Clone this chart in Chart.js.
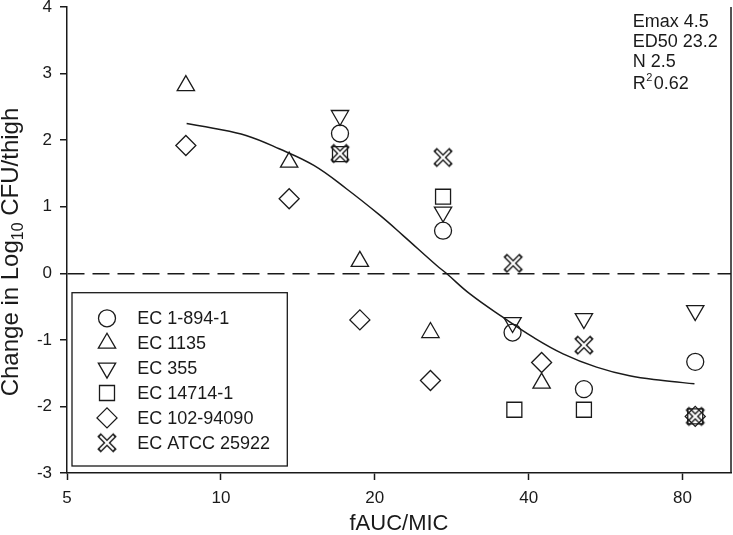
<!DOCTYPE html>
<html>
<head>
<meta charset="utf-8">
<script src="https://cdn.jsdelivr.net/npm/chart.js@4.4.1/dist/chart.umd.min.js"></script>
<style>
  html, body { margin:0; padding:0; background:#fff; }
  #wrap { width:733px; height:535px; }
</style>
</head>
<body>
<div id="wrap"><canvas id="chart" width="733" height="535"></canvas></div>
<script>
// axis ticks
const xTicks = [5, 10, 20, 40, 80];
const yMin = -3, yMax = 4;

// strains (legend order)
const strains = ['EC 1-894-1', 'EC 1135', 'EC 355', 'EC 14714-1', 'EC 102-94090', 'EC ATCC 25922'];

// fAUC/MIC vs change in log10 CFU/thigh, per strain
const x1894 = [17.1, 27.2, 37.2, 51.3, 84.7];
const y1894 = [2.10, 0.64, -0.89, -1.74, -1.33];

const x1135 = [8.54, 13.6, 18.7, 25.7, 42.4];
const y1135 = [2.82, 1.67, 0.18, -0.89, -1.65];

const x355 = [17.1, 27.2, 37.2, 51.3, 84.7];
const y355 = [2.37, 0.92, -0.74, -0.68, -0.56];

const x14714 = [17.1, 27.2, 37.5, 51.3, 84.7];
const y14714 = [1.79, 1.15, -2.05, -2.05, -2.15];

const x102 = [8.54, 13.6, 18.7, 25.7, 42.4, 84.7];
const y102 = [1.92, 1.12, -0.70, -1.61, -1.34, -2.15];

const xAtcc = [17.1, 27.2, 37.3, 51.3, 84.7];
const yAtcc = [1.80, 1.74, 0.15, -1.08, -2.15];

// fitted Emax curve
const curveX = [8.57, 9.66, 11.2, 13.0, 15.2, 17.6, 20.4, 22.7, 26.4, 27.6, 30.7, 35.6, 40.8, 46.7, 54.3, 63.0, 73.2, 84.4];
const curveY = [2.25, 2.18, 2.07, 1.87, 1.62, 1.27, 0.88, 0.57, 0.12, 0.0, -0.31, -0.66, -0.96, -1.21, -1.41, -1.54, -1.61, -1.66];

// model parameters box
const fitLines = ['Emax 4.5', 'ED50 23.2', 'N 2.5'];
const r2Value = '0.62';

const INK = '#1a1a1a';
const FONT = "'Liberation Sans', Arial, sans-serif";
Chart.defaults.font.family = FONT;
Chart.defaults.color = INK;

function pts(xs, ys) { return xs.map((x, i) => ({ x: x, y: ys[i] })); }

// outlined X marker
function makeCross() {
  const c = document.createElement('canvas');
  c.width = 24; c.height = 24;
  const g = c.getContext('2d');
  g.lineCap = 'butt';
  g.strokeStyle = INK; g.lineWidth = 5;
  g.beginPath(); g.moveTo(4, 4); g.lineTo(20, 20); g.moveTo(20, 4); g.lineTo(4, 20); g.stroke();
  g.strokeStyle = '#fff'; g.lineWidth = 2.2;
  g.beginPath(); g.moveTo(5.3, 5.3); g.lineTo(18.7, 18.7); g.moveTo(18.7, 5.3); g.lineTo(5.3, 18.7); g.stroke();
  return c;
}
const crossImg = makeCross();

function markerSet(label, data, style, radius, rotation) {
  return {
    label: label,
    data: data,
    pointStyle: style,
    pointRadius: radius,
    pointHoverRadius: radius,
    pointRotation: rotation || 0,
    pointBorderWidth: 1.3,
    borderColor: INK,
    backgroundColor: 'rgba(0,0,0,0)',
    showLine: false,
    isStrain: true
  };
}

const datasets = [
  markerSet(strains[0], pts(x1894, y1894), 'circle', 8.5),
  markerSet(strains[1], pts(x1135, y1135), 'triangle', 10),
  markerSet(strains[2], pts(x355, y355), 'triangle', 10, 180),
  markerSet(strains[3], pts(x14714, y14714), 'rect', 10.6),
  markerSet(strains[4], pts(x102, y102), 'rectRot', 10),
  markerSet(strains[5], pts(xAtcc, yAtcc), crossImg, 9),
  {
    label: 'fit',
    data: pts(curveX, curveY),
    showLine: true,
    pointRadius: 0,
    borderColor: INK,
    borderWidth: 1.5,
    tension: 0.4,
    fill: false
  }
];

// right frame line, legend box, y title, parameter text
const extras = {
  id: 'extras',
  afterDraw(chart) {
    const ctx = chart.ctx;
    const a = chart.chartArea;
    ctx.save();
    ctx.strokeStyle = INK;
    ctx.lineWidth = 1.5;
    ctx.beginPath();
    ctx.moveTo(a.right, a.top);
    ctx.lineTo(a.right, a.bottom);
    ctx.stroke();

    // legend
    const bx = 72, by = 292.7, bw = 215.3, bh = 173.3;
    ctx.lineWidth = 1.3;
    ctx.strokeRect(bx, by, bw, bh);
    ctx.font = '18px ' + FONT;
    ctx.fillStyle = INK;
    ctx.textBaseline = 'middle';
    ctx.textAlign = 'left';
    chart.data.datasets.filter(d => d.isStrain).forEach((d, i) => {
      const cy = 318.3 + i * 24.9;
      ctx.save();
      ctx.strokeStyle = INK;
      ctx.fillStyle = 'rgba(0,0,0,0)';
      ctx.lineWidth = 1.3;
      Chart.helpers.drawPoint(ctx, {
        pointStyle: d.pointStyle,
        radius: d.pointRadius,
        rotation: d.pointRotation,
        borderWidth: 1.3
      }, 107, cy);
      ctx.restore();
      ctx.fillText(d.label, 137.3, cy + 1);
    });

    // parameter text
    ctx.textBaseline = 'alphabetic';
    ctx.font = '18px ' + FONT;
    const tx = 632.7;
    fitLines.forEach((t, i) => ctx.fillText(t, tx, 27 + i * 20));
    ctx.fillText('R', tx, 89);
    const rw = ctx.measureText('R').width;
    ctx.font = '11px ' + FONT;
    ctx.fillText('2', tx + rw + 0.5, 81);
    const sw = ctx.measureText('2').width;
    ctx.font = '18px ' + FONT;
    ctx.fillText(r2Value, tx + rw + sw + 2, 89);

    // y axis title with subscript
    const big = '24px ' + FONT, small = '16px ' + FONT;
    const p1 = 'Change in Log', p2 = '10', p3 = ' CFU/thigh';
    ctx.font = big; const w1 = ctx.measureText(p1).width, w3 = ctx.measureText(p3).width;
    ctx.font = small; const w2 = ctx.measureText(p2).width;
    const total = w1 + w2 + w3;
    ctx.translate(18, (a.top + a.bottom) / 2 + 12);
    ctx.rotate(-Math.PI / 2);
    let x0 = -total / 2;
    ctx.font = big; ctx.fillText(p1, x0, 0); x0 += w1;
    ctx.font = small; ctx.fillText(p2, x0, 5); x0 += w2;
    ctx.font = big; ctx.fillText(p3, x0, 0);
    ctx.restore();
  }
};

new Chart(document.getElementById('chart'), {
  type: 'scatter',
  data: { datasets: datasets },
  plugins: [extras],
  options: {
    responsive: false,
    animation: false,
    layout: { autoPadding: false, padding: { top: 7, right: 2, left: 0, bottom: 0 } },
    plugins: { legend: { display: false }, tooltip: { enabled: false } },
    scales: {
      x: {
        type: 'logarithmic',
        min: 5,
        max: 99.5,
        afterBuildTicks: s => { s.ticks = xTicks.map(v => ({ value: v })); },
        afterFit: s => { s.height = 62; s.paddingLeft = 0; s.paddingRight = 0; },
        ticks: {
          font: { size: 17 },
          color: INK,
          padding: 8,
          maxRotation: 0,
          callback: v => String(v)
        },
        grid: { drawOnChartArea: false, drawTicks: true, tickLength: 7, tickColor: INK, tickWidth: 1.5 },
        border: { display: true, color: INK, width: 1.5 },
        title: { display: true, text: 'fAUC/MIC', font: { size: 22 }, color: INK, padding: { top: 0, bottom: -2 } }
      },
      y: {
        min: yMin,
        max: yMax,
        afterFit: s => { s.width = 67; s.paddingTop = 0; s.paddingBottom = 0; },
        ticks: { stepSize: 1, font: { size: 17 }, color: INK, padding: 8 },
        grid: {
          drawOnChartArea: true,
          drawTicks: true,
          tickLength: 7,
          tickColor: INK,
          tickWidth: 1.5,
          lineWidth: 1.5,
          color: c => (c.tick && c.tick.value === 0) ? INK : 'rgba(0,0,0,0)'
        },
        border: { display: true, color: INK, width: 1.5, dash: [17, 8] }
      }
    }
  }
});
</script>
</body>
</html>
